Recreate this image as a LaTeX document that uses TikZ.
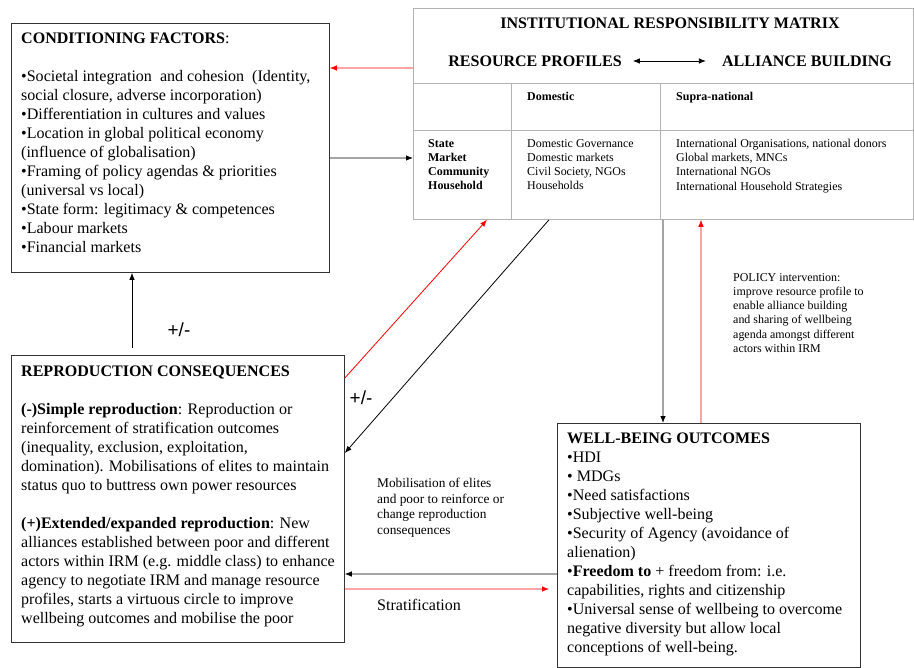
\documentclass[tikz,border=0pt]{standalone}
\usepackage{fontspec}
\setmainfont{Liberation Serif}
\setsansfont{Liberation Sans}
\usetikzlibrary{arrows.meta,positioning}
\tikzset{
  boxframe/.style ={draw=black!80, line width=0.8bp, inner sep=0pt,
                    anchor=north west},
  irmframe/.style ={draw=black!30, line width=0.8bp, inner sep=0pt,
                    anchor=north west},
  grid/.style     ={draw=black!30, line width=0.8bp},
  body/.style     ={font=\fontsize{16.1}{19.1}\selectfont, align=left,
                    inner sep=0pt, anchor=north west},
  cell/.style     ={font=\fontsize{12}{14.3}\selectfont, align=left,
                    inner sep=0pt, anchor=north west},
  cellb/.style    ={cell, font=\bfseries\fontsize{12}{14.3}\selectfont},
  note/.style     ={font=\fontsize{13.4}{16}\selectfont, align=left,
                    inner sep=0pt, anchor=north west},
  pm/.style       ={font=\sffamily\fontsize{19}{19}\selectfont, inner sep=0pt},
  head/.style     ={font=\bfseries\fontsize{16.1}{19.1}\selectfont, inner sep=0pt},
  blk/.style      ={-{Latex[length=7bp,width=5.5bp]}, line width=0.8bp},
  rd/.style       ={-{Latex[length=7bp,width=5.5bp]}, line width=0.8bp, red},
}
\begin{document}
\begin{tikzpicture}[x=1bp, y=-1bp]
\useasboundingbox (0,0) rectangle (914,668);
% boxes
\node[boxframe, minimum width=318bp, minimum height=249bp] (cf) at (11,23) {};
\node[irmframe, minimum width=500bp, minimum height=211bp] (irm) at (413,8) {};
\node[boxframe, minimum width=333bp, minimum height=287bp] (rc) at (11,355) {};
\node[boxframe, minimum width=303bp, minimum height=244bp] (wb) at (557,423) {};
% matrix grid
\draw[grid] ([yshift=-75bp]irm.north west) -- ([yshift=-75bp]irm.north east);
\draw[grid] ([yshift=-122bp]irm.north west) -- ([yshift=-122bp]irm.north east);
\draw[grid] ([xshift=98bp,yshift=-75bp]irm.north west) -- ([xshift=98bp]irm.south west);
\draw[grid] ([xshift=247bp,yshift=-75bp]irm.north west) -- ([xshift=247bp]irm.south west);
% texts
\node[body] (cftext) at (21,32.5) {\textbf{CONDITIONING FACTORS}:\\[19.1bp]
  \textbullet Societal integration\ \ and cohesion\ \ (Identity,\\
  social closure, adverse incorporation)\\
  \textbullet Differentiation in cultures and values\\
  \textbullet Location in global political economy\\
  (influence of globalisation)\\
  \textbullet Framing of policy agendas \& priorities\\
  (universal vs local)\\
  \textbullet State form: legitimacy \& competences\\
  \textbullet Labour markets\\
  \textbullet Financial markets};
\node[head] (irmtitle) at (670,23) {INSTITUTIONAL RESPONSIBILITY MATRIX};
\node[head] (rp) at (535,61) {RESOURCE PROFILES};
\node[head] (ab) at (807,61) {ALLIANCE BUILDING};
\draw[{Latex[length=7bp,width=5.5bp]}-{Latex[length=7bp,width=5.5bp]}, line width=0.8bp]
  ([xshift=11bp]rp.east) -- ([xshift=-16bp]ab.west);
\node[cellb] (dom) at (527,92) {Domestic};
\node[cellb] (supra) at (676,92) {Supra-national};
\node[cellb] (sect) at (428,139) {State\\ Market\\ Community\\ Household};
\node[cell] (domrows) at (527,139)
  {Domestic Governance\\ Domestic markets\\ Civil Society, NGOs\\ Households};
\node[cell] (suprarows) at (676,139)
  {International Organisations, national donors\\ Global markets, MNCs\\
   International NGOs\\ International Household Strategies};
\node[body] (rctext) at (21,365.5) {\textbf{REPRODUCTION CONSEQUENCES}\\[19.1bp]
  \textbf{(-)Simple reproduction}: Reproduction or\\
  reinforcement of stratification outcomes\\
  (inequality, exclusion, exploitation,\\
  domination). Mobilisations of elites to maintain\\
  status quo to buttress own power resources\\[19.1bp]
  \textbf{(+)Extended/expanded reproduction}: New\\
  alliances established between poor and different\\
  actors within IRM (e.g. middle class) to enhance\\
  agency to negotiate IRM and manage resource\\
  profiles, starts a virtuous circle to improve\\
  wellbeing outcomes and mobilise the poor};
\node[body] (wbtext) at (567,432.5) {\textbf{WELL-BEING OUTCOMES}\\
  \textbullet HDI\\
  \textbullet\ MDGs\\
  \textbullet Need satisfactions\\
  \textbullet Subjective well-being\\
  \textbullet Security of Agency (avoidance of\\
  alienation)\\
  \textbullet\textbf{Freedom to} + freedom from: i.e.\\
  capabilities, rights and citizenship\\
  \textbullet Universal sense of wellbeing to overcome\\
  negative diversity but allow local\\
  conceptions of well-being.};
\node[cell] (policy) at (733,273) {POLICY intervention:\\
  improve resource profile to\\ enable alliance building\\
  and sharing of wellbeing\\ agenda amongst different\\ actors within IRM};
\node[note] (mobil) at (377,477.5) {Mobilisation of elites\\
  and poor to reinforce or\\ change reproduction\\ consequences};
\node[body] (strat) at (377,599.5) {Stratification};
\node[pm] (pm1) at (179,330) {+/-};
\node[pm] (pm2) at (361,398) {+/-};
% connectors
\draw[rd]  ([yshift=-60bp]irm.north west) -- ([yshift=-45bp]cf.north east);
\draw[blk] ([yshift=-135bp]cf.north east) -- ([yshift=-150bp]irm.north west);
\draw[blk] ([xshift=121bp,yshift=7bp]rc.north west) -- ([xshift=121bp]cf.south west);
\draw[rd]  ([yshift=-23bp]rc.north east) -- ([xshift=74bp]irm.south west);
\draw[blk] ([xshift=136bp]irm.south west) -- ([yshift=-98bp]rc.north east);
\draw[blk] ([xshift=250bp]irm.south west) -- ([xshift=106bp]wb.north west);
\draw[rd]  ([xshift=144bp]wb.north west) -- ([xshift=288bp]irm.south west);
\draw[blk] ([yshift=-151bp]wb.north west) -- ([yshift=-219bp]rc.north east);
\draw[rd]  ([yshift=-234bp]rc.north east) -- ([xshift=-8bp,yshift=-166bp]wb.north west);
\end{tikzpicture}
\end{document}
